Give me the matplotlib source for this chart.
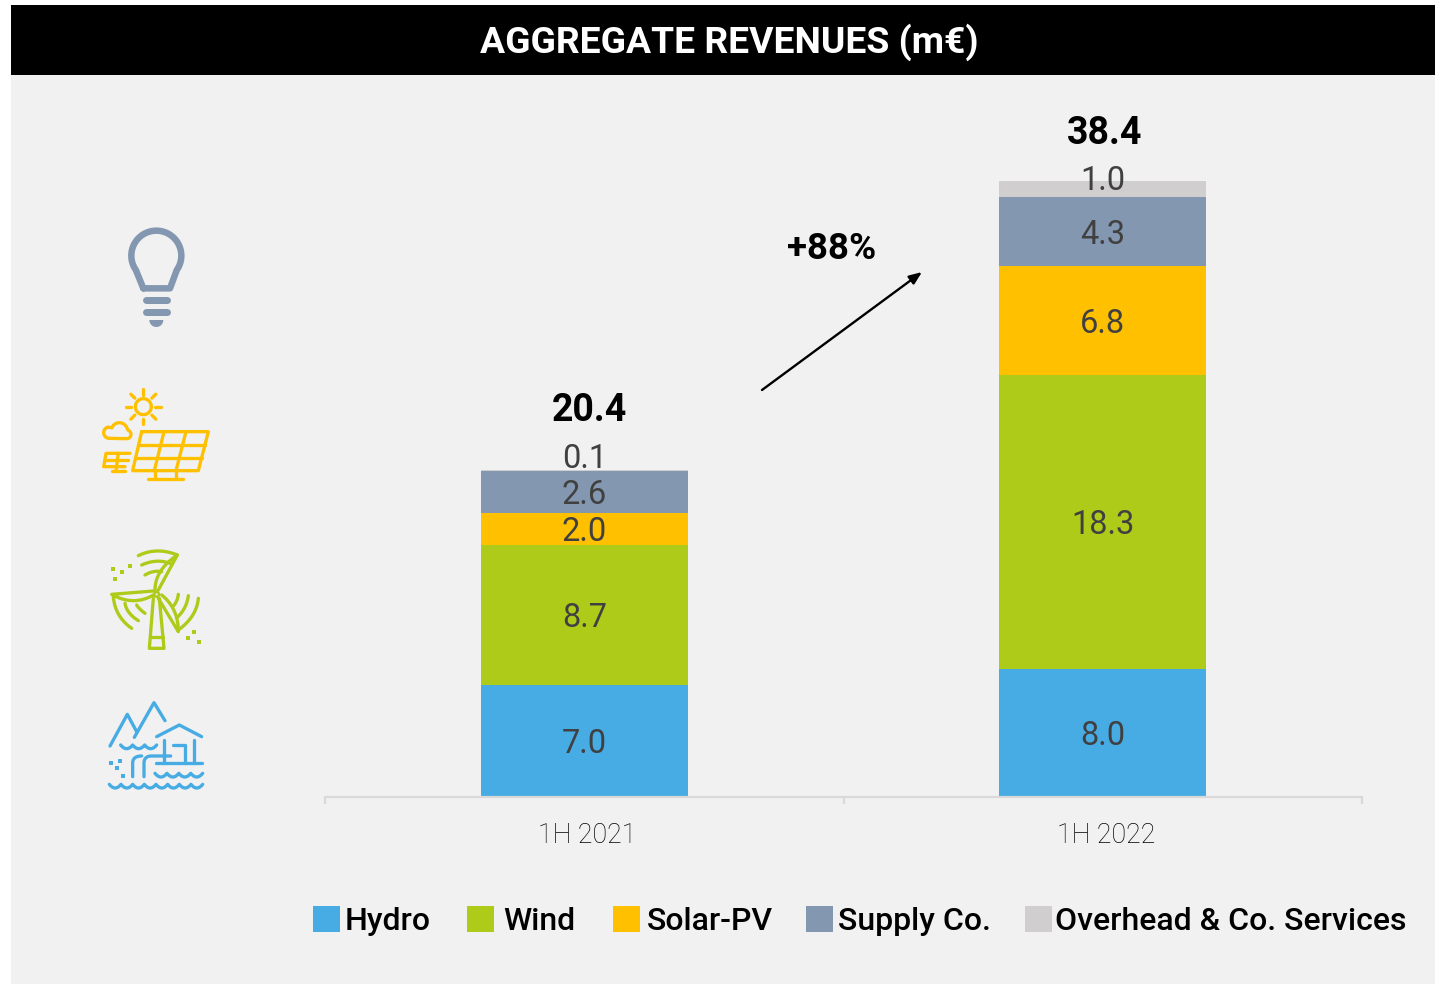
import numpy as np
import matplotlib
matplotlib.use("Agg")
import matplotlib.pyplot as plt
from matplotlib.patches import Rectangle, Polygon
from matplotlib.transforms import ScaledTranslation

plt.rcParams['font.family'] = ['Roboto', 'DejaVu Sans']

categories = ['1H 2021', '1H 2022']
hydro = [7.0, 8.0]
wind = [8.7, 18.3]
solar = [2.0, 6.8]
supply = [2.6, 4.3]
overhead = [0.1, 1.0]
totals = [20.4, 38.4]
series_names = ['Hydro', 'Wind', 'Solar-PV', 'Supply Co.', 'Overhead & Co. Services']
growth_label = '+88%'
title = 'AGGREGATE REVENUES (m€)'

BLUE, GREEN, YELLOW, SLATE, GREY = '#47abe4', '#aecb19', '#ffc000', '#8497b0', '#d0cece'
colors = [BLUE, GREEN, YELLOW, SLATE, GREY]
W, H = 1435, 984
fig = plt.figure(figsize=(W / 100, H / 100), dpi=100, facecolor='white')

# Page layer in pixel coordinates
bg = fig.add_axes([0, 0, 1, 1], zorder=0)
bg.set_xlim(0, W); bg.set_ylim(H, 0); bg.axis('off')
bg.add_patch(Rectangle((11, 5), W - 11, H - 5, fc='#f1f1f1', ec='none'))
bg.add_patch(Rectangle((11, 5), W - 11, 70, fc='black', ec='none'))
bg.text(729, 42, title, color='white', fontsize=26.8, fontweight='bold', ha='center', va='center')

# Chart
px_per_unit = 16.04
ax_l, ax_r, ax_b, ax_t = 325, 1362, 797, 97
ax = fig.add_axes([ax_l / W, 1 - ax_b / H, (ax_r - ax_l) / W, (ax_b - ax_t) / H], zorder=1)
ax.patch.set_alpha(0)
ax.set_xlim(-0.5, 1.5)
ax.set_ylim(0, (ax_b - ax_t) / px_per_unit)
for s in ['top', 'left', 'right']:
    ax.spines[s].set_visible(False)
ax.spines['bottom'].set_color('#d9d9d9')
ax.spines['bottom'].set_linewidth(1.6)
ax.set_yticks([])
x = np.arange(len(categories))
ax.set_xticks(x)
ax.set_xticklabels(categories, fontsize=19.3, color='#000000', fontweight='light')
ax.set_xticks([-0.5, 0.5, 1.5], minor=True)
ax.tick_params(axis='x', which='major', length=0, pad=18)
ax.tick_params(axis='x', which='minor', length=5, width=1.6, color='#d9d9d9')
shift = ScaledTranslation(3 / 100, 0, fig.dpi_scale_trans)
for lab in ax.get_xticklabels():
    lab.set_transform(lab.get_transform() + shift)

LABEL_LIFT = {(4, 0): 15, (4, 1): 11}   # pixels, labels lifted off thin segments
bottom = np.zeros(2)
stack = [hydro, wind, solar, supply, overhead]
for k, vals in enumerate(stack):
    vals = np.array(vals)
    ax.bar(x, vals, 0.4, bottom=bottom, color=colors[k], linewidth=0)
    for i, v in enumerate(vals):
        ax.annotate(f'{v:.1f}', (x[i], bottom[i] + v / 2),
                    xytext=(0, (LABEL_LIFT.get((k, i), 0) - 3) * 0.72),
                    textcoords='offset points', ha='center', va='center',
                    fontsize=23.5, color='#404040', zorder=5)
    bottom += vals
for i, t in enumerate(totals):
    ax.annotate(f'{t:.1f}', (x[i], t), xytext=(4 if i == 0 else 1.5, 59 * 0.72 if i == 0 else 48 * 0.72),
                textcoords='offset points', ha='center', va='center',
                fontsize=27, fontweight='bold', color='black', zorder=5)

# Growth arrow
bg.annotate('', xy=(922, 272), xytext=(762, 390),
            arrowprops=dict(arrowstyle='-|>,head_length=0.75,head_width=0.3', color='black', lw=1.7,
                            shrinkA=0, shrinkB=0))
bg.text(832, 249, growth_label, fontsize=26.5, fontweight='bold', color='black', ha='center', va='center')

# Legend
swatch_x = [313, 467, 613, 806, 1025]
text_x = [345, 503, 647, 838, 1055]
for k, name in enumerate(series_names):
    bg.add_patch(Rectangle((swatch_x[k], 906), 26.5, 26, fc=colors[k], ec='none'))
    bg.text(text_x[k], 921, name, fontsize=23, fontweight='medium', color='black', ha='left', va='center')

# Icons, traced in zoomed-crop coordinates (3x)
def line(pts, org, c, lw=3.3, closed=False):
    pts = np.array(pts, float)
    if closed:
        pts = np.vstack([pts, pts[:1]])
    bg.plot(org[0] + pts[:, 0] / 3, org[1] + pts[:, 1] / 3, color=c, lw=lw * 0.72,
            solid_capstyle='round', solid_joinstyle='round')

def quad(p0, c, p1, n=24):
    t = np.linspace(0, 1, n)[:, None]
    return (1 - t) ** 2 * np.array(p0) + 2 * t * (1 - t) * np.array(c) + t ** 2 * np.array(p1)

def arc(cx, cy, r, a0, a1, n=60):
    a = np.radians(np.linspace(a0, a1, n))
    return np.c_[cx + r * np.cos(a), cy - r * np.sin(a)]

def waves(x0, x1, y, n, depth):
    pts = []
    step = (x1 - x0) / n
    for i in range(n):
        pts.append(quad((x0 + i * step, y), (x0 + (i + .5) * step, y + depth), (x0 + (i + 1) * step, y), 12))
    return np.vstack(pts)

o1 = (90, 210)
# bulb
bulb = np.vstack([[[160, 235]], arc(199, 137, 75, 215, -35), [[240, 235]]])
line(bulb, o1, SLATE, 6.5, closed=True)
line([(167, 270), (232, 270)], o1, SLATE, 7)
line([(167, 305), (232, 305)], o1, SLATE, 7)
semi = arc(199, 330, 21, 180, 360)
bg.add_patch(Polygon(np.c_[o1[0] + semi[:, 0] / 3, o1[1] + semi[:, 1] / 3], fc=SLATE, ec='none'))
# solar panel
line(arc(160, 590, 24, 0, 360), o1, YELLOW)
for a in range(0, 360, 45):
    r = np.radians(a)
    line([(160 + 36 * np.cos(r), 590 + 36 * np.sin(r)), (160 + 53 * np.cos(r), 590 + 53 * np.sin(r))], o1, YELLOW)
line([(155, 665), (355, 665), (325, 782), (128, 782)], o1, YELLOW, closed=True)
line([(144, 706), (345, 706)], o1, YELLOW)
line([(136, 745), (335, 745)], o1, YELLOW)
line([(222, 665), (193, 782)], o1, YELLOW)
line([(288, 665), (258, 782)], o1, YELLOW)
line([(195, 782), (195, 808)], o1, YELLOW)
line([(258, 782), (258, 808)], o1, YELLOW)
line([(173, 808), (280, 808)], o1, YELLOW)
line([(120, 730), (48, 730), (41, 770), (105, 770)], o1, YELLOW)
line([(48, 750), (115, 750)], o1, YELLOW)
line([(85, 730), (78, 782)], o1, YELLOW)
line([(65, 782), (105, 782)], o1, YELLOW)
cloud = np.vstack([arc(58, 668, 17, 270, 100), arc(88, 662, 24, 160, 25), arc(110, 673, 13, 70, -90)])
line(cloud, o1, YELLOW, closed=True)

o2 = (90, 530)
# wind turbine
line(arc(200, 193, 7, 0, 360), o2, GREEN, 2.5)
line([(190, 205), (178, 355), (222, 355), (208, 205)], o2, GREEN)
line([(182, 322), (218, 322)], o2, GREEN)
line(np.vstack([quad((195, 180), (195, 120), (262, 75)), [(205, 180)]]), o2, GREEN)
line(np.vstack([[(190, 183)], [(65, 193)], quad((65, 193), (130, 230), (190, 195))]), o2, GREEN)
line(np.vstack([[(205, 205)], [(265, 305)], quad((265, 305), (265, 235), (215, 195))]), o2, GREEN)
for p0, c, p1 in [((145, 77), (200, 50), (262, 75)), ((155, 105), (200, 85), (240, 100)),
                  ((165, 135), (190, 120), (215, 125)), ((70, 200), (75, 260), (125, 295)),
                  ((105, 220), (110, 250), (145, 272)), ((140, 225), (145, 235), (165, 250)),
                  ((325, 205), (320, 260), (265, 300)), ((295, 197), (290, 235), (262, 262)),
                  ((265, 193), (262, 215), (250, 228))]:
    line(quad(p0, c, p1), o2, GREEN)
for dx, dy in [(69, 117), (96, 126), (120, 108), (75, 147), (312, 306), (294, 324), (327, 336)]:
    bg.add_patch(Rectangle((o2[0] + dx / 3 - 2, o2[1] + dy / 3 - 2), 4, 4, fc=GREEN, ec='none'))

# hydro plant
line([(60, 648), (112, 553), (140, 605)], o2, BLUE)
line([(133, 622), (192, 518), (225, 572)], o2, BLUE)
line([(200, 620), (268, 585), (335, 620)], o2, BLUE)
line([(222, 630), (222, 700)], o2, BLUE)
line([(250, 645), (285, 645), (285, 700)], o2, BLUE)
line([(312, 630), (312, 700)], o2, BLUE)
line([(197, 700), (337, 700)], o2, BLUE)
line(waves(92, 200, 645, 3, 22), o2, BLUE)
line(waves(195, 338, 730, 4, 22), o2, BLUE)
line(waves(58, 338, 763, 8, 22), o2, BLUE)
line(np.vstack([[(128, 740)], quad((128, 700), (128, 678), (155, 678))]), o2, BLUE)
line(np.vstack([[(162, 740)], quad((162, 700), (162, 678), (185, 678)), [(242, 678)]]), o2, BLUE)
for dx, dy in [(63, 699), (90, 693), (81, 714), (99, 738)]:
    bg.add_patch(Rectangle((o2[0] + dx / 3 - 2, o2[1] + dy / 3 - 2), 4, 4, fc=BLUE, ec='none'))

fig.savefig('out.png', dpi=100, facecolor='white')
